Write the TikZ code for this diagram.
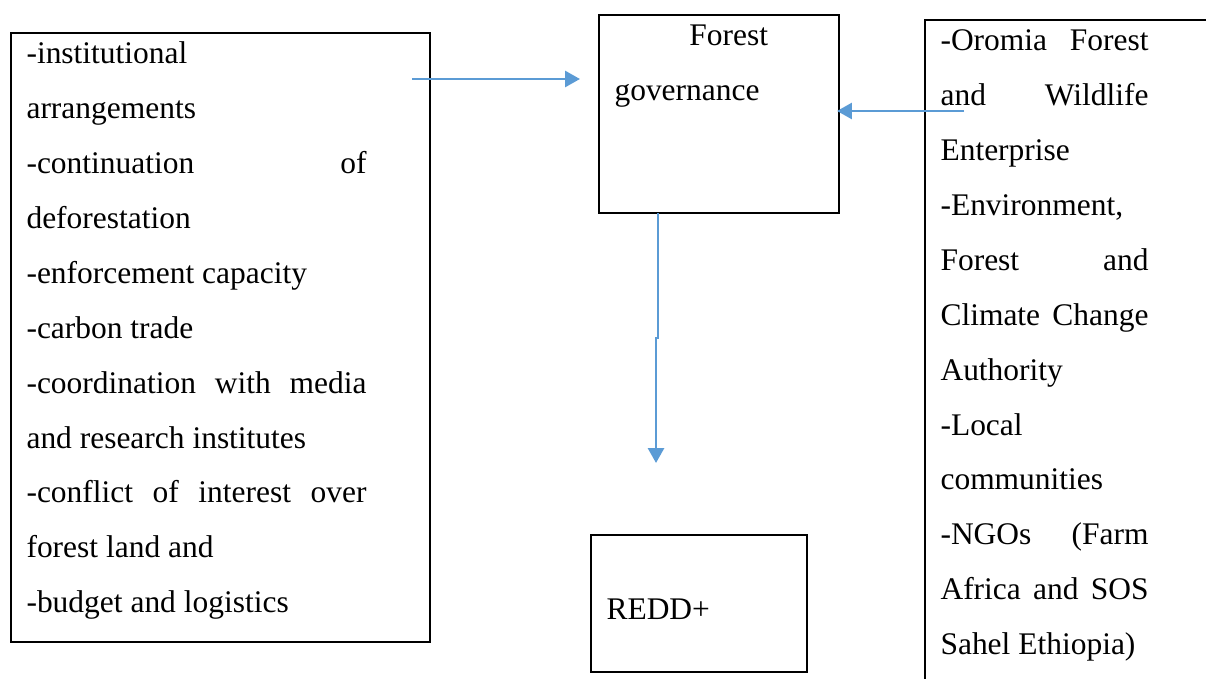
\documentclass[tikz,border=0pt]{standalone}
\usepackage{fontspec}
\setmainfont{Liberation Serif}
\usetikzlibrary{arrows.meta,fit}
\definecolor{linkblue}{RGB}{91,155,213}
\tikzset{
  box/.style={draw, line width=0.75pt, inner sep=0pt},
  txt/.style={inner sep=0pt, anchor=north west, align=justify, font=\fontsize{11.8}{20.6}\selectfont,
    execute at begin node={\parindent0pt\tolerance10000\hbadness10000\hyphenpenalty10000\exhyphenpenalty10000}},
  link/.style={-{Triangle[length=5.6pt,width=6pt]}, linkblue, line width=1pt}
}
\begin{document}
\begin{tikzpicture}[x=0.375pt,y=-0.375pt]
  \useasboundingbox (0,0) rectangle (1206,678);
  \clip (0,0) rectangle (1206,678);
  % boxes
  \node (issues) [box, fit={(11,33) (430,642)}] {};
  \node (gov) [box, fit={(599,15) (839,213)}] {};
  \node (redd) [box, fit={(591,535) (807,672)}] {};
  \node (actors) [box, fit={(925,20) (1230,700)}] {};
  % texts
  \node (issuestext) [txt, text width=127.5pt] at (26,24.5) {\strut-institutional\newline arrangements\par
    -continuation of\linebreak deforestation\par
    -enforcement capacity\par
    -carbon trade\par
    -coordination with media\linebreak and research institutes\par
    -conflict of interest over\linebreak forest land and\par
    -budget and logistics};
  \node (govtext) [txt, align=left, text width=75pt] at (614,6.5) {\strut\hspace*{28.1pt}Forest\newline governance};
  \node (reddtext) [txt, anchor=base west] at (606,619) {REDD+};
  \node (actorstext) [txt, text width=78pt] at (940,11.5) {\strut-Oromia Forest\linebreak and Wildlife\linebreak Enterprise\par
    -Environment,\newline Forest and\linebreak Climate Change\linebreak Authority\par
    -Local\newline communities\par
    -NGOs (Farm\linebreak Africa and SOS\linebreak Sahel Ethiopia)};
  % connectors
  \coordinate (issuesout) at (412,79);
  \coordinate (govin) at (580,79);
  \coordinate (actorsout) at (964,111);
  \coordinate (govside) at (837,111);
  \coordinate (govout) at (658,213);
  \coordinate (reddin) at (656,463);
  \draw[link] (issuesout) -- (govin);
  \draw[link] (actorsout) -- (govside);
  \draw[link] (govout) -- (658,338) -- (656,338) -- (reddin);
\end{tikzpicture}
\end{document}
